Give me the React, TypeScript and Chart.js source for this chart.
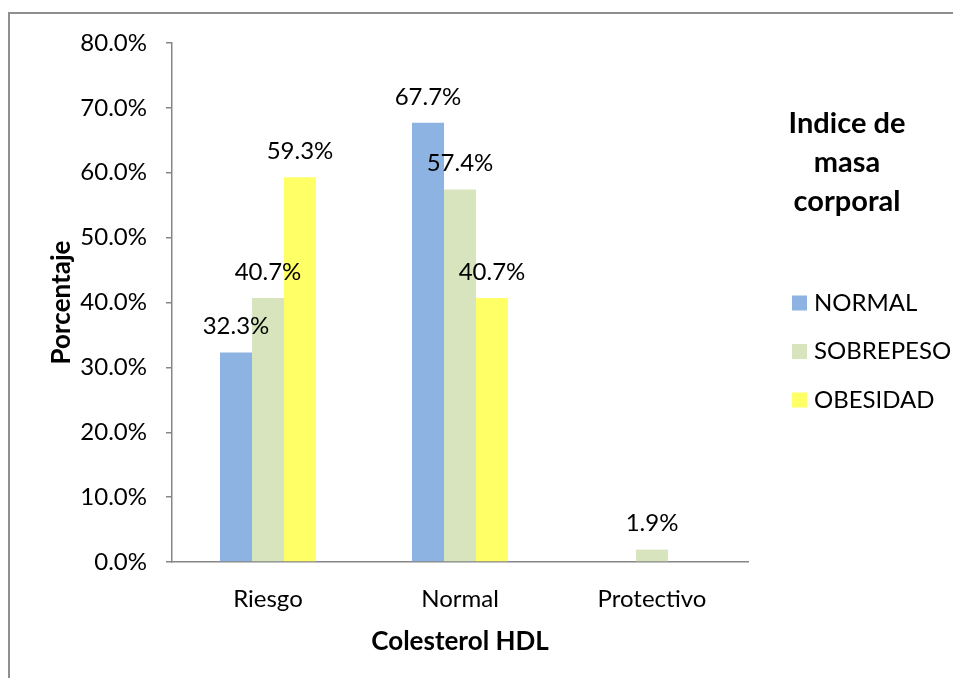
import React, { useEffect, useRef } from "react";
import { Chart, registerables } from "chart.js";

Chart.register(...registerables);

const categories = ["Riesgo", "Normal", "Protectivo"];
const seriesNames = ["NORMAL", "SOBREPESO", "OBESIDAD"];
const normalValues = [32.3, 67.7, null];
const sobrepesoValues = [40.7, 57.4, 1.9];
const obesidadValues = [59.3, 40.7, null];
const seriesColors = ["#8DB3E2", "#D7E4BD", "#FFFF66"];
const legendTitle = ["Indice de", "masa", "corporal"];
const yTitle = "Porcentaje";
const xTitle = "Colesterol HDL";

const FONT = "Lato, 'Open Sans', sans-serif";
const AXIS = "#868686";

const labelPlugin = {
  id: "valueLabels",
  afterDatasetsDraw(chart: any) {
    const ctx = chart.ctx;
    ctx.save();
    ctx.font = `24px ${FONT}`;
    ctx.fillStyle = "#000";
    ctx.textAlign = "center";
    ctx.textBaseline = "middle";
    chart.data.datasets.forEach((ds: any, di: number) => {
      const meta = chart.getDatasetMeta(di);
      meta.data.forEach((el: any, i: number) => {
        const v = ds.data[i];
        if (v === null || v === undefined) return;
        ctx.fillText(v.toFixed(1) + "%", el.x, el.y - 26);
      });
    });
    ctx.restore();
  },
};

const legendPlugin = {
  id: "customLegend",
  afterDraw(chart: any) {
    const ctx = chart.ctx;
    const right = chart.chartArea.right;
    ctx.save();
    ctx.fillStyle = "#000";
    ctx.font = `bold 29px ${FONT}`;
    ctx.textAlign = "center";
    ctx.textBaseline = "alphabetic";
    legendTitle.forEach((t, i) => {
      ctx.fillText(t, right + 99, 133 + i * 39);
    });
    ctx.font = `24px ${FONT}`;
    ctx.textAlign = "left";
    ctx.textBaseline = "middle";
    chart.data.datasets.forEach((ds: any, i: number) => {
      const cy = 303 + i * 48.5;
      ctx.fillStyle = ds.backgroundColor;
      ctx.fillRect(right + 44, cy - 7.5, 15, 15);
      ctx.fillStyle = "#000";
      ctx.fillText(ds.label, right + 66, cy);
    });
    ctx.restore();
  },
};

export default function App() {
  const ref = useRef<HTMLCanvasElement | null>(null);
  useEffect(() => {
    if (!ref.current) return;
    const chart = new Chart(ref.current, {
      type: "bar",
      data: {
        labels: categories,
        datasets: [
          { label: seriesNames[0], data: normalValues, backgroundColor: seriesColors[0] },
          { label: seriesNames[1], data: sobrepesoValues, backgroundColor: seriesColors[1] },
          { label: seriesNames[2], data: obesidadValues, backgroundColor: seriesColors[2] },
        ],
      },
      options: {
        animation: false,
        responsive: false,
        maintainAspectRatio: false,
        devicePixelRatio: 1,
        layout: { padding: { top: 43, right: 205, left: 0, bottom: 0 } },
        datasets: { bar: { categoryPercentage: 0.5, barPercentage: 1.0 } },
        plugins: { legend: { display: false }, tooltip: { enabled: false } },
        scales: {
          x: {
            grid: { display: false },
            border: { display: true, color: AXIS, width: 1.5 },
            ticks: { color: "#000", font: { family: FONT, size: 24 }, padding: 15, maxRotation: 0 },
            title: {
              display: true,
              text: xTitle,
              color: "#000",
              font: { family: FONT, size: 26, weight: "bold" },
              padding: { top: 0, bottom: 21 },
            },
            afterFit: (s: any) => { s.height = 116; },
          },
          y: {
            min: 0,
            max: 80,
            grid: { drawOnChartArea: false, drawTicks: true, tickLength: 6, color: AXIS, lineWidth: 1.5 },
            border: { display: true, color: AXIS, width: 1.5 },
            ticks: {
              stepSize: 10,
              color: "#000",
              font: { family: FONT, size: 24 },
              padding: 19,
              callback: (v: any) => Number(v).toFixed(1) + "%",
            },
            title: {
              display: true,
              text: yTitle,
              color: "#000",
              font: { family: FONT, size: 26, weight: "bold" },
              padding: { top: 46, bottom: 0 },
            },
            afterFit: (s: any) => { s.width = 172; },
          },
        },
      },
      plugins: [labelPlugin, legendPlugin],
    });
    return () => chart.destroy();
  }, []);
  return (
    <div style={{ position: "fixed", left: 0, top: 0, width: 953, height: 678, background: "#fff", overflow: "hidden" }}>
      <div
        style={{
          position: "absolute",
          left: 8,
          top: 12,
          width: 1000,
          height: 1000,
          borderLeft: "2px solid #8f8f8f",
          borderTop: "2px solid #8f8f8f",
        }}
      />
      <canvas ref={ref} width={953} height={678} style={{ position: "absolute", left: 0, top: 0, width: 953, height: 678 }} />
    </div>
  );
}
